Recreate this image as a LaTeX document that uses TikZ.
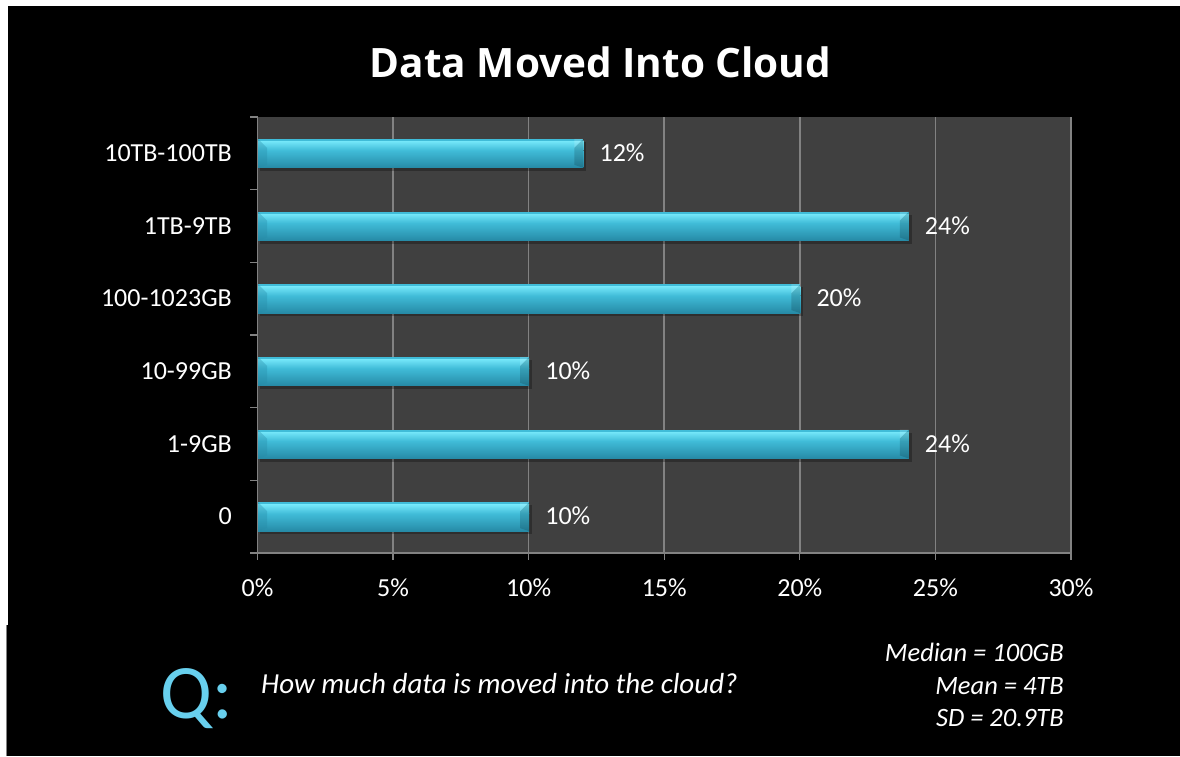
\documentclass[tikz,border=0pt]{standalone}
\usepackage{fontspec}
\setmainfont{Carlito}
\newfontfamily\titlefont{Open Sans}
\definecolor{plotbg}{RGB}{64,64,64}
\definecolor{gridc}{RGB}{130,130,130}
\definecolor{barhi}{RGB}{118,232,250}
\definecolor{barmid}{RGB}{64,188,216}
\definecolor{bardark}{RGB}{38,138,166}
\definecolor{qcyan}{RGB}{104,208,238}
\tikzset{
  lbl/.style={text=white, font=\fontsize{26}{30}\selectfont, inner sep=0pt},
  ilbl/.style={text=white, font=\fontsize{26.5}{30}\selectfont\itshape, inner sep=0pt},
  gridline/.style={draw=gridc, line width=1.5pt},
  axisline/.style={draw=gridc, line width=1.2pt},
}
\begin{document}
\begin{tikzpicture}[x=1pt,y=-1pt]
\useasboundingbox (0,0) rectangle (1180,756);
% background frame
\fill[white] (0,0) rectangle (1180,756);
\fill[black] (8,6) rectangle (1180,626);
\fill[black] (7,625) rectangle (1180,756);
\draw[gridc,line width=0.8pt] (6.6,625) -- (6.6,756);
% title
\node[text=white, font=\titlefont\bfseries\fontsize{40.5}{44}\selectfont, inner sep=0pt, anchor=base] (title) at (600.5,77) {Data Moved Into Cloud};
% plot area
\fill[plotbg] (257.5,117) rectangle (1071,553);
\foreach \k in {1,...,6}{
  \draw[gridline] (257.5+135.58*\k,117) -- (257.5+135.58*\k,553);
}
\draw[axisline] (257.5,117) -- (257.5,553) -- (1071,553);
\foreach \j in {0,...,6}{
  \draw[axisline] (250,117+72.667*\j) -- (257.5,117+72.667*\j);
}
\foreach \k/\t in {0/0\%,1/5\%,2/10\%,3/15\%,4/20\%,5/25\%,6/30\%}{
  \draw[axisline] (257.5+135.58*\k,553) -- (257.5+135.58*\k,560);
  \node[lbl, anchor=base] (xt\k) at (257.5+135.58*\k,596) {\t};
}
% bars
\foreach \v/\lab [count=\i from 0] in {12/10TB-100TB, 24/1TB-9TB, 20/100-1023GB, 10/10-99GB, 24/1-9GB, 10/0}{
  \pgfmathsetmacro\c{117+72.667*(\i+0.5)}
  \pgfmathsetmacro\xe{258+27.116*\v}
  \pgfmathsetmacro\tp{\c-14.5}
  \pgfmathsetmacro\bt{\c+14.5}
  \node[lbl, anchor=base east] (cat\i) at (232,\c+8) {\lab};
  % shadow
  \fill[black,opacity=0.28] (260,\tp+3) rectangle (\xe+3,\bt+3);
  % body
  \shade[top color=barmid, bottom color=bardark] (258,\c-3) rectangle (\xe,\bt);
  \shade[top color=barhi, bottom color=barmid] (258,\tp+2) rectangle (\xe,\c-3);
  \fill[barmid] (258,\tp) rectangle (\xe,\tp+2);
  % bevels
  \fill[bardark,opacity=0.35] (258,\tp) -- (267,\tp+9) -- (267,\bt-3) -- (258,\bt) -- cycle;
  \fill[black,opacity=0.15] (\xe,\tp) -- (\xe-9,\tp+9) -- (\xe-9,\bt-3) -- (\xe,\bt) -- cycle;
  \fill[white,opacity=0.15] (\xe,\tp) -- (\xe-9,\tp+9) -- (\xe-9,\tp) -- cycle;
  \node[lbl, anchor=base west] (val\i) at (\xe+16,\c+8) {\v\%};
}
% bottom text
\node[text=qcyan, font=\fontsize{77}{80}\selectfont, inner sep=0pt, anchor=base west] (q) at (160,718) {Q:};
\node[text=white, font=\fontsize{29}{32}\selectfont\itshape, inner sep=0pt, anchor=base west] (question) at (261,693.5) {How much data is moved into the cloud?};
\node[ilbl, anchor=base east] (median) at (1064,661) {Median = 100GB};
\node[ilbl, anchor=base east] (mean) at (1064,694) {Mean = 4TB};
\node[ilbl, anchor=base east] (sd) at (1064,726.5) {SD = 20.9TB};
\end{tikzpicture}
\end{document}
